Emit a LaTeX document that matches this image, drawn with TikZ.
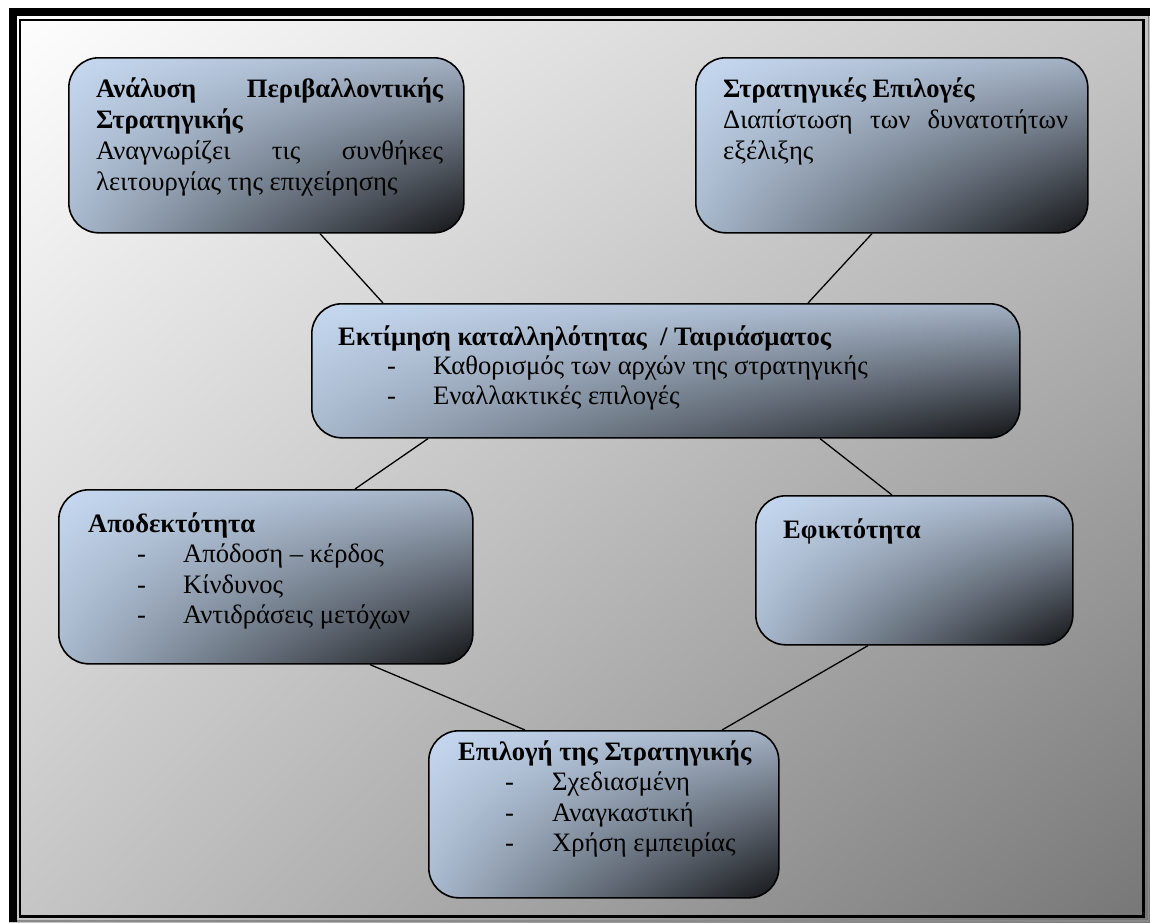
\documentclass[tikz,border=0pt]{standalone}
\usepackage{fontspec}
\setmainfont{Liberation Serif}
\usetikzlibrary{calc,shadings}
\definecolor{boxA}{HTML}{C6D9F1}
\definecolor{boxB}{HTML}{A2B0C3}
\definecolor{boxC}{HTML}{A8B8CC}
\definecolor{boxD}{HTML}{131416}
\definecolor{bgA}{HTML}{FFFFFF}
\definecolor{bgB}{HTML}{C6C6C6}
\definecolor{bgC}{HTML}{767676}
\definecolor{rimgray}{HTML}{8A8A8A}
\begin{document}
\begin{tikzpicture}[x=1pt,y=-1pt,
  stagebox/.style={draw=black, line width=1.6pt, rounded corners=30pt, inner sep=0pt,
    anchor=north west, shade, upper left=boxA, upper right=boxB,
    lower left=boxC, lower right=boxD},
  % anchored at the baseline of the last line
  stagetext/.style={anchor=base west, inner sep=0pt, align=left,
    font=\fontsize{26.6}{30.5}\selectfont},
  widetext/.style={stagetext, font=\fontsize{26.6}{31}\selectfont},
  tighttext/.style={stagetext, font=\fontsize{26.6}{29.5}\selectfont},
  link/.style={draw=black, line width=1.3pt}]
\useasboundingbox (0,0) rectangle (1150,922);

% page and framed panel
\fill[white] (0,0) rectangle (1150,922);
\shade[upper left=bgA, upper right=bgB, lower left=bgB, lower right=bgC]
  (9,8) rectangle (1150,922);
\draw[line width=8pt] (13,922) -- (13,12) -- (1150,12);
\draw[rimgray, line width=1.5pt] (1148.5,16) -- (1148.5,920.8) -- (17,920.8);
\draw[line width=2.6pt] (20,20) rectangle (1143.5,916.5);

% stage boxes
\node[stagebox, minimum width=395pt, minimum height=175pt] (b1) at (68,57) {};
\node[stagebox, minimum width=392pt, minimum height=175pt] (b2) at (695,57) {};
\node[stagebox, minimum width=708pt, minimum height=134pt] (b3) at (311,303) {};
\node[stagebox, minimum width=414pt, minimum height=174pt] (b4) at (58,489) {};
\node[stagebox, minimum width=317pt, minimum height=149pt] (b5) at (755,495) {};
\node[stagebox, minimum width=350pt, minimum height=167pt] (b6) at (428,730) {};

% connectors
\draw[link] ($(b1.south west)+(252,0)$) -- ($(b3.north west)+(72,0)$);
\draw[link] ($(b2.south west)+(177,0)$) -- ($(b3.north west)+(497,0)$);
\draw[link] ($(b3.south west)+(117,0)$) -- ($(b4.north west)+(297,0)$);
\draw[link] ($(b3.south west)+(509,0)$) -- ($(b5.north west)+(137,0)$);
\draw[link] ($(b4.south west)+(312,0)$) -- ($(b6.north west)+(97,0)$);
\draw[link] ($(b5.south west)+(113,0)$) -- ($(b6.north west)+(294,0)$);

% texts
\node[widetext] (t1) at (96,190) {%
  \textbf{\makebox[347pt][l]{Ανάλυση\hfill Περιβαλλοντικής}}\\
  \textbf{Στρατηγικής}\\
  \makebox[347pt][l]{Αναγνωρίζει\hfill τις\hfill συνθήκες}\\
  λειτουργίας της επιχείρησης};
\node[widetext] (t2) at (723,159) {%
  \textbf{Στρατηγικές Επιλογές}\\
  \makebox[345pt][l]{Διαπίστωση\hfill των\hfill δυνατοτήτων}\\
  εξέλιξης};
\node[tighttext] (t3) at (338,404) {%
  \textbf{Εκτίμηση καταλληλότητας\ \ / Ταιριάσματος}\\
  \hspace*{49pt}\makebox[46pt][l]{-}Καθορισμός των αρχών της στρατηγικής\\
  \hspace*{49pt}\makebox[46pt][l]{-}Εναλλακτικές επιλογές};
\node[stagetext] (t4) at (88,623.5) {%
  \textbf{Αποδεκτότητα}\\
  \hspace*{49pt}\makebox[46pt][l]{-}Απόδοση – κέρδος\\
  \hspace*{49pt}\makebox[46pt][l]{-}Κίνδυνος\\
  \hspace*{49pt}\makebox[46pt][l]{-}Αντιδράσεις μετόχων};
\node[stagetext] (t5) at (783,538) {\textbf{Εφικτότητα}};
\node[stagetext] (t6) at (458,851.5) {%
  \textbf{Επιλογή της Στρατηγικής}\\
  \hspace*{47pt}\makebox[47pt][l]{-}Σχεδιασμένη\\
  \hspace*{47pt}\makebox[47pt][l]{-}Αναγκαστική\\
  \hspace*{47pt}\makebox[47pt][l]{-}Χρήση εμπειρίας};
\end{tikzpicture}
\end{document}
